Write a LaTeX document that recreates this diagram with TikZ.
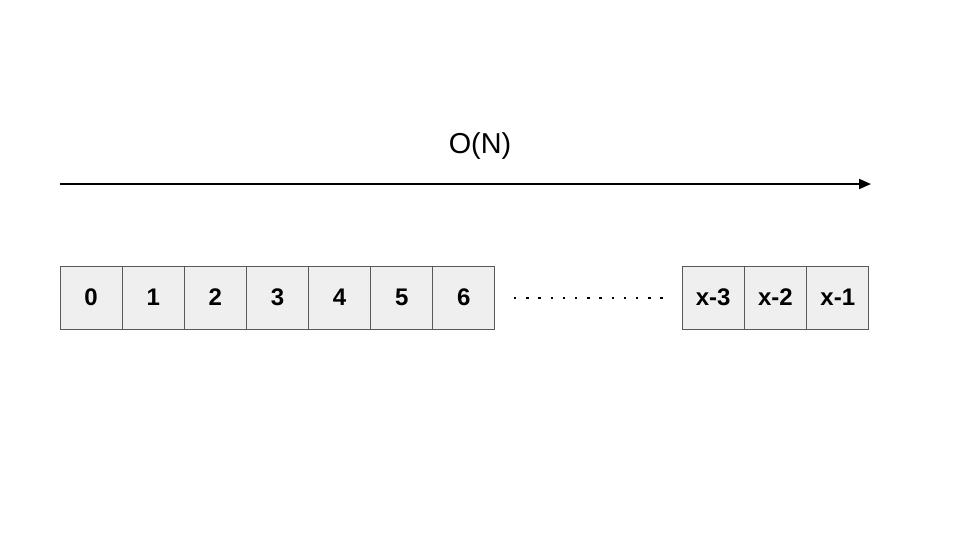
\documentclass[tikz,border=0pt]{standalone}
\usepackage{fontspec}
\setmainfont{Liberation Sans}
\usetikzlibrary{arrows.meta}
\definecolor{cellfill}{HTML}{EFEFEF}
\definecolor{cellline}{HTML}{595959}
\begin{document}
\begin{tikzpicture}[x=0.75pt,y=-0.75pt,
  cell/.style={draw=cellline,line width=0.75pt,fill=cellfill,minimum width=46.6pt,minimum height=47.25pt,inner sep=0pt,font=\fontsize{18pt}{20pt}\selectfont\bfseries,anchor=center}]
\useasboundingbox (0,0) rectangle (960,540);
\fill[white] (0,0) rectangle (960,540);
\node[font=\fontsize{21.6pt}{24pt}\selectfont] (lbl) at (480,146) {O(N)};
\coordinate (as) at (60,184);
\coordinate (ae) at (871,184);
\draw[line width=1.5pt,-{Triangle[length=9pt,width=7.5pt]}] (as) -- (ae);
\foreach \t [count=\i from 0] in {0,1,2,3,4,5,6}{
  \node[cell] (c\i) at ({60+31.07+62.14*\i},297.5) {\t};
}
\foreach \t [count=\i from 0] in {x-3,x-2,x-1}{
  \node[cell] (d\i) at ({682+31.15+62.3*\i},297.5) {\t};
}
\coordinate (ds) at (514,298);
\coordinate (de) at (664,298);
\draw[line width=1.8pt,dash pattern=on 1.8pt off 7.35pt] (ds) -- (de);
\end{tikzpicture}
\end{document}
